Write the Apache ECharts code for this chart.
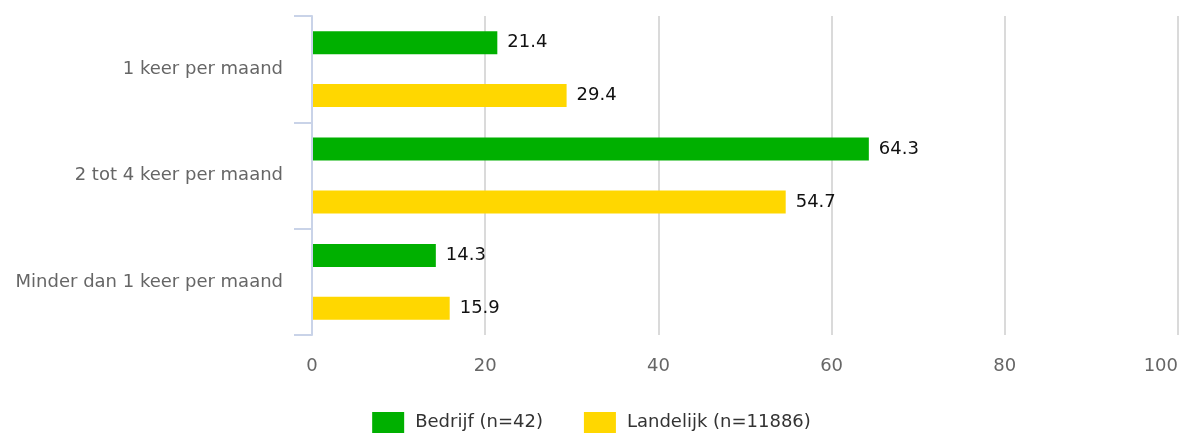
<!DOCTYPE html>
<html>
<head>
<meta charset="utf-8">
<script src="https://cdn.jsdelivr.net/npm/echarts@6/dist/echarts.min.js"></script>
<style>
html,body{margin:0;padding:0;background:#fff;}
#chart{width:1183px;height:439px;}
</style>
</head>
<body>
<div id="chart"></div>
<script>
const categories = ["1 keer per maand", "2 tot 4 keer per maand", "Minder dan 1 keer per maand"];
const seriesNames = ["Bedrijf (n=42)", "Landelijk (n=11886)"];
const bedrijf = [21.4, 64.3, 14.3];
const landelijk = [29.4, 54.7, 15.9];
const xTicks = [0, 20, 40, 60, 80, 100];

const FONT = "DejaVu Sans";
const chart = echarts.init(document.getElementById('chart'), null, {renderer: 'canvas'});
const labelStyle = {
  show: true, position: 'right', distance: 10,
  color: '#111', fontFamily: FONT, fontSize: 18,
  formatter: p => p.value.toFixed(1)
};
chart.setOption({
  animation: false,
  color: ['#00b000', '#ffd700'],
  grid: {left: 312, right: 5, top: 16, bottom: 104, containLabel: false},
  legend: {
    data: seriesNames,
    bottom: 1, left: 'center',
    itemWidth: 32, itemHeight: 21, itemGap: 41,
    icon: 'rect',
    textStyle: {fontFamily: FONT, fontSize: 18, color: '#333', padding: [0, 0, 0, 6]}
  },
  xAxis: {
    type: 'value', min: xTicks[0], max: xTicks[xTicks.length - 1], interval: 20,
    axisLine: {show: false}, axisTick: {show: false},
    splitLine: {show: true, lineStyle: {color: '#dadada', width: 2}},
    axisLabel: {fontFamily: FONT, fontSize: 18, color: '#666', margin: 22, alignMaxLabel: 'right'}
  },
  yAxis: {
    type: 'category', data: categories, inverse: true, z: 5,
    axisLine: {show: true, lineStyle: {color: '#c9d3e8', width: 2}},
    axisTick: {show: true, length: 18, lineStyle: {color: '#c9d3e8', width: 2}},
    axisLabel: {fontFamily: FONT, fontSize: 18, color: '#666', margin: 29}
  },
  series: [
    {name: seriesNames[0], type: 'bar', data: bedrijf, barWidth: 23, barGap: '130%', label: labelStyle},
    {name: seriesNames[1], type: 'bar', data: landelijk, barWidth: 23, barGap: '130%', label: labelStyle}
  ]
});
</script>
</body>
</html>
